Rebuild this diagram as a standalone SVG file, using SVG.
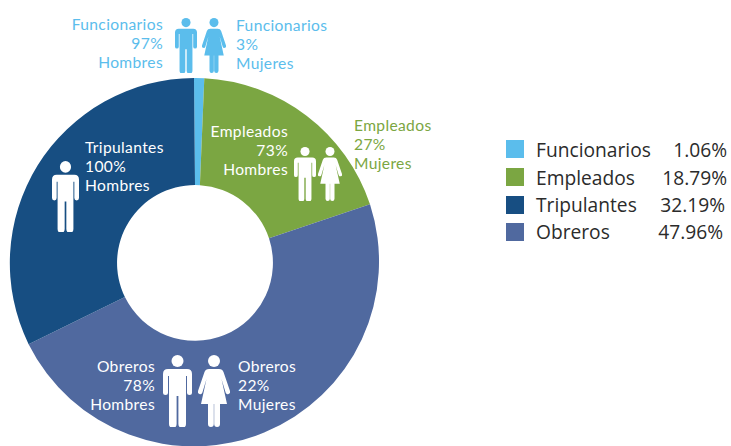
<svg xmlns="http://www.w3.org/2000/svg" width="731" height="446" viewBox="0 0 731 446">
<style>
text{font-family:"Open Sans","Noto Sans",sans-serif}
.l{font-family:Lato,"Open Sans",sans-serif;font-size:15.600px;letter-spacing:.35px}
.e{text-anchor:end}
.w{fill:#fff}
.b{fill:#5bbdec}
.g{fill:#7ba642}
.k{font-size:19.200px;fill:#2b2b2b}
</style>
<defs>
<symbol id="man" viewBox="0 0 29 72" preserveAspectRatio="none">
<circle cx="14.500" cy="6" r="6"/>
<path d="M5 14H24Q29 14 29 19V37.500a2.500 2.500 0 0 1-5 0V21H23V69a3.200 3.200 0 0 1-7.600 0V41H13.600V69a3.200 3.200 0 0 1-7.600 0V21H5V37.500a2.500 2.500 0 0 1-5 0V19Q0 14 5 14Z"/>
</symbol>
<symbol id="woman" viewBox="0 0 32 72" preserveAspectRatio="none">
<circle cx="16" cy="6" r="6"/>
<path d="M11 14H21Q24.500 14 25.500 17L32 36a2.300 2.300 0 0 1-4.400 1.500L23.500 24 L29 49H22V69a2.900 2.900 0 0 1-5.800 0V49H15.800V69a2.900 2.900 0 0 1-5.800 0V49H3L8.500 24 4.400 37.500A2.300 2.300 0 0 1 0 36L6.500 17Q7.500 14 11 14Z"/>
</symbol>
</defs>
<g id="donut">
<path id="slice-funcionarios" fill="#5bbdec" d="M194 78A185 185 0 0 1 204.300 78.200L199.900 185.200A78 78 0 0 0 195 185Z"/>
<path id="slice-empleados" fill="#7ba642" d="M204.300 78.200A185 185 0 0 1 370 204.300L269 238.300A78 78 0 0 0 199.900 185.200Z"/>
<path id="slice-obreros" fill="#50699f" d="M370 204.300A185 185 0 0 1 28.600 344.200L124.900 297.100A78 78 0 0 0 269 238.300Z"/>
<path id="slice-tripulantes" fill="#174e82" d="M28.600 344.200A185 185 0 0 1 194 78L195 185A78 78 0 0 0 124.900 297.100Z"/>
</g>
<g id="funcionarios-hombres" class="b">
<text class="l e" x="163" y="30">Funcionarios</text><text class="l e" x="163" y="49">97%</text><text class="l e" x="163" y="68">Hombres</text>
<use href="#man" x="175" y="18" width="22" height="55"/>
</g>
<g id="funcionarios-mujeres" class="b">
<use href="#woman" x="202" y="18" width="24" height="55"/>
<text class="l" x="236" y="31">Funcionarios</text><text class="l" x="236" y="50">3%</text><text class="l" x="236" y="69">Mujeres</text>
</g>
<g id="empleados-hombres" class="w">
<text class="l e" x="288" y="137">Empleados</text><text class="l e" x="288" y="156">73%</text><text class="l e" x="288" y="175">Hombres</text>
<use href="#man" x="294" y="147" width="22" height="54"/>
</g>
<g id="empleados-mujeres">
<use class="w" href="#woman" x="318" y="147" width="24" height="54"/>
<text class="l g" x="354" y="131">Empleados</text><text class="l g" x="354" y="150">27%</text><text class="l g" x="354" y="169">Mujeres</text>
</g>
<g id="tripulantes-hombres" class="w">
<text class="l" x="85" y="153">Tripulantes</text><text class="l" x="85" y="172">100%</text><text class="l" x="85" y="191">Hombres</text>
<use href="#man" x="52" y="161" width="27" height="71"/>
</g>
<g id="obreros-hombres" class="w">
<text class="l e" x="155" y="372">Obreros</text><text class="l e" x="155" y="391">78%</text><text class="l e" x="155" y="410">Hombres</text>
<use href="#man" x="163" y="355" width="29" height="72"/>
</g>
<g id="obreros-mujeres" class="w">
<use href="#woman" x="198" y="355" width="32" height="72"/>
<text class="l" x="238" y="372">Obreros</text><text class="l" x="238" y="391">22%</text><text class="l" x="238" y="410">Mujeres</text>
</g>
<g id="legend">
<rect x="506" y="140" width="18" height="18" fill="#5bbdec"/><text class="k" x="536" y="157">Funcionarios</text><text class="k e" x="727" y="157">1.06%</text>
<rect x="506" y="168" width="18" height="18" fill="#7ba642"/><text class="k" x="536" y="185">Empleados</text><text class="k e" x="727" y="185">18.79%</text>
<rect x="506" y="196" width="18" height="18" fill="#174e82"/><text class="k" x="536" y="212">Tripulantes</text><text class="k e" x="725" y="212">32.19%</text>
<rect x="506" y="223" width="18" height="18" fill="#50699f"/><text class="k" x="536" y="239">Obreros</text><text class="k e" x="723" y="239">47.96%</text>
</g>
<g id="connectors"/>
</svg>
